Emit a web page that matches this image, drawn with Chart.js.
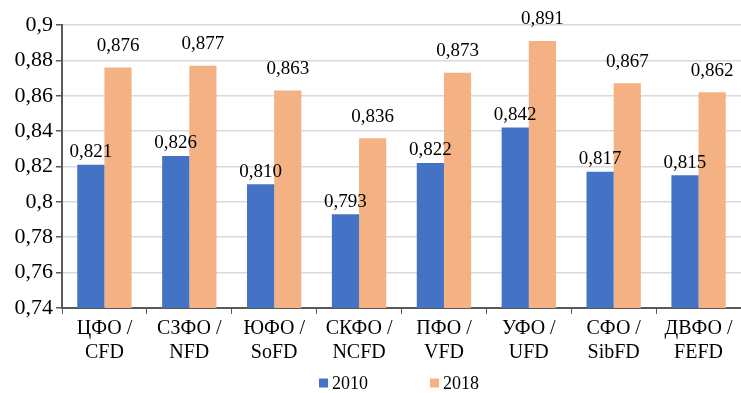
<!DOCTYPE html>
<html>
<head>
<meta charset="utf-8">
<script src="https://cdn.jsdelivr.net/npm/chart.js@4/dist/chart.umd.min.js"></script>
<style>
html,body{margin:0;padding:0;background:#fff;}
</style>
</head>
<body>
<canvas id="c" width="741" height="393"></canvas>
<script>
const categories = [["ЦФО /","CFD"],["СЗФО /","NFD"],["ЮФО /","SoFD"],["СКФО /","NCFD"],["ПФО /","VFD"],["УФО /","UFD"],["СФО /","SibFD"],["ДВФО /","FEFD"]];
const seriesNames = ["2010","2018"];
const values2010 = [0.821,0.826,0.810,0.793,0.822,0.842,0.817,0.815];
const values2018 = [0.876,0.877,0.863,0.836,0.873,0.891,0.867,0.862];
const yTicks = [0.74,0.76,0.78,0.8,0.82,0.84,0.86,0.88,0.9];

const FONT = "Liberation Serif";
const FSTACK = "'Liberation Serif', 'Times New Roman', serif";
const CLEAR = 'rgba(0,0,0,0)';
Chart.defaults.font.family = FONT;
const fmt = v => String(Math.round(v*1000)/1000).replace('.',',');
const fmtLabel = v => v.toFixed(3).replace('.',',');

const textPlugin = {
  id:'serifText',
  afterDatasetsDraw(chart){
    const ctx = chart.ctx;
    const ys = chart.scales.y, xs = chart.scales.x, area = chart.chartArea;
    ctx.save();
    ctx.fillStyle = "#000";
    ctx.font = "19px " + FSTACK;
    ctx.textAlign = "center";
    ctx.textBaseline = "bottom";
    chart.data.datasets.forEach((ds,i)=>{
      const meta = chart.getDatasetMeta(i);
      const off = i===0 ? 3 : 12;
      meta.data.forEach((el,j)=>{
        ctx.fillText(fmtLabel(ds.data[j]), el.x, el.y - off);
      });
    });
    ctx.font = "22px " + FSTACK;
    ctx.textAlign = "right";
    ctx.textBaseline = "middle";
    ys.ticks.forEach(t=>{
      ctx.fillText(fmt(t.value), area.left - 9, ys.getPixelForValue(t.value));
    });
    ctx.font = "20px " + FSTACK;
    ctx.textAlign = "center";
    xs.ticks.forEach((t,i)=>{
      const x = xs.getPixelForTick(i);
      const lines = chart.data.labels[t.value];
      lines.forEach((ln,k)=> ctx.fillText(ln, x, area.bottom + 21 + k*24));
    });
    const lg = chart.legend;
    ctx.font = "18px " + FSTACK;
    ctx.textAlign = "left";
    lg.legendHitBoxes.forEach((hb,i)=>{
      ctx.fillText(seriesNames[i], hb.left + 13, hb.top + hb.height/2 + 1);
    });
    ctx.restore();
  }
};

const chart = new Chart(document.getElementById('c'),{
  type:'bar',
  data:{
    labels:categories,
    datasets:[
      {label:seriesNames[0],data:values2010,backgroundColor:'#4472C4',barPercentage:1,categoryPercentage:0.64},
      {label:seriesNames[1],data:values2018,backgroundColor:'#F4B183',barPercentage:1,categoryPercentage:0.64}
    ]
  },
  options:{
    responsive:false,
    animation:false,
    layout:{padding:{top:25,right:0,left:0,bottom:-9}},
    plugins:{
      legend:{
        position:'bottom',
        fullSize:false,
        labels:{font:{size:18},color:CLEAR,boxWidth:9,boxHeight:9,padding:3,
          generateLabels(chart){
            const items = Chart.defaults.plugins.legend.labels.generateLabels(chart);
            items[0].text = items[0].text + '            ';
            return items;
          }}
      },
      tooltip:{enabled:false}
    },
    scales:{
      x:{
        afterFit(scale){scale.height = 63;},
        grid:{drawOnChartArea:false,drawTicks:true,tickLength:6,color:'#595959',offset:true},
        border:{color:'#595959',width:2},
        ticks:{font:{size:20,lineHeight:1.2},color:CLEAR,maxRotation:0,autoSkip:false,padding:4}
      },
      y:{
        min:0.74,max:0.9,
        afterBuildTicks(scale){scale.ticks = yTicks.map(v=>({value:v}));},
        afterFit(scale){scale.width = 62;},
        grid:{color:'#d9d9d9',lineWidth:1.5,tickColor:'#595959',tickLength:6},
        border:{color:'#595959',width:2},
        ticks:{font:{size:22},color:CLEAR,padding:3,callback:v=>fmt(v)}
      }
    }
  },
  plugins:[textPlugin]
});
</script>
</body>
</html>
